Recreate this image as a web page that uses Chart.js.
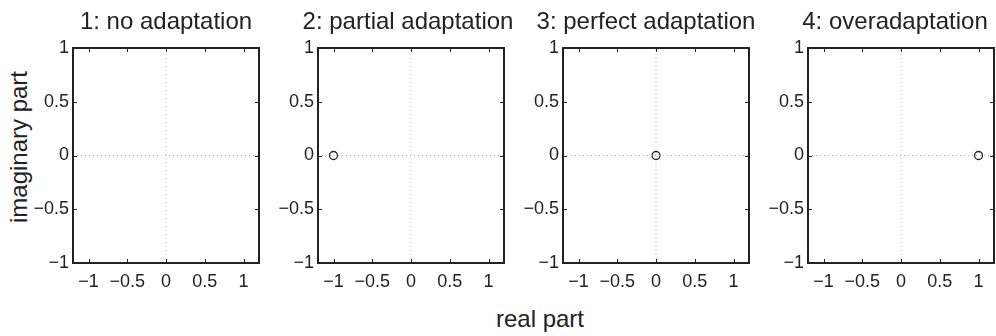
<!DOCTYPE html>
<html>
<head>
<meta charset="utf-8">
<script src="https://cdn.jsdelivr.net/npm/chart.js@4.4.1/dist/chart.umd.min.js"></script>
<style>
  html, body { margin: 0; padding: 0; background: #fff; }
  #wrap { position: relative; width: 996px; height: 336px; overflow: hidden; font-family: "Liberation Sans", Arial, sans-serif; color: #222; }
  .panel { position: absolute; top: 0; height: 336px; }
  .lbl { position: absolute; font-size: 24px; line-height: 28px; white-space: nowrap; color: #222; }
</style>
</head>
<body>
<div id="wrap">
  <div class="lbl" id="ylab" style="left:19px; top:147px; transform: translate(-50%,-50%) rotate(-90deg);">imaginary part</div>
  <div class="lbl" id="xlab" style="left:540px; top:319px; transform: translate(-50%,-50%);">real part</div>
</div>
<script>
// ---- data ----
const panelTitles = ['1: no adaptation', '2: partial adaptation', '3: perfect adaptation', '4: overadaptation'];
const zeroReal = [[], [-1], [0], [1]];
const zeroImag = [[], [0], [0], [0]];
const xTickValues = [-1, -0.5, 0, 0.5, 1];
const xTickLabels = ['\u22121', '\u22120.5', '0', '0.5', '1'];
const yTickValues = [-1, -0.5, 0, 0.5, 1];
const yTickLabels = ['\u22121', '\u22120.5', '0', '0.5', '1'];
const xMin = -1.2, xMax = 1.2;
const yMin = -1, yMax = 1;

// ---- layout / style ----
const FONT = '"Liberation Sans", Arial, sans-serif';
const INK = '#222';
const plotLefts = [73, 318, 563, 808];
const plotWidth = 186;
const leftAxisW = 55;
const rightAxisW = [55, 49, 35, 43]; // nudges each title slightly as in the reference

const boxPlugin = {
  id: 'boxTicks',
  afterDatasetsDraw(chart) {
    const { ctx, chartArea: a, scales } = chart;
    ctx.save();
    ctx.strokeStyle = INK;
    ctx.lineWidth = 1;
    const tl = 4;
    xTickValues.forEach(v => {
      const px = Math.round(scales.x.getPixelForValue(v)) + 0.5;
      ctx.beginPath();
      ctx.moveTo(px, a.bottom); ctx.lineTo(px, a.bottom - tl);
      ctx.moveTo(px, a.top); ctx.lineTo(px, a.top + tl);
      ctx.stroke();
    });
    yTickValues.forEach(v => {
      const py = Math.round(scales.y.getPixelForValue(v)) + 0.5;
      ctx.beginPath();
      ctx.moveTo(a.left, py); ctx.lineTo(a.left + tl, py);
      ctx.moveTo(a.right, py); ctx.lineTo(a.right - tl, py);
      ctx.stroke();
    });
    ctx.lineWidth = 2;
    ctx.strokeRect(a.left, a.top, a.right - a.left, a.bottom - a.top);
    ctx.restore();
  }
};

const wrap = document.getElementById('wrap');

panelTitles.forEach((title, i) => {
  const div = document.createElement('div');
  div.className = 'panel';
  div.style.left = (plotLefts[i] - leftAxisW) + 'px';
  div.style.width = (leftAxisW + plotWidth + rightAxisW[i]) + 'px';
  const cv = document.createElement('canvas');
  div.appendChild(cv);
  wrap.appendChild(div);

  const pts = zeroReal[i].map((r, k) => ({ x: r, y: zeroImag[i][k] }));

  new Chart(cv, {
    type: 'scatter',
    data: {
      datasets: [
        {
          type: 'line',
          data: [{ x: xMin, y: 0 }, { x: xMax, y: 0 }],
          borderColor: '#b4b4da', borderWidth: 1, borderDash: [1, 3],
          pointRadius: 0, fill: false
        },
        {
          type: 'line',
          data: [{ x: 0, y: yMin }, { x: 0, y: yMax }],
          borderColor: '#b4b4da', borderWidth: 1, borderDash: [1, 3],
          pointRadius: 0, fill: false
        },
        {
          data: pts,
          pointStyle: 'circle', pointRadius: 4, pointBorderWidth: 1.3,
          borderColor: INK, backgroundColor: 'rgba(0,0,0,0)'
        }
      ]
    },
    options: {
      responsive: true,
      maintainAspectRatio: false,
      animation: false,
      events: [],
      layout: { padding: 0 },
      plugins: {
        legend: { display: false },
        tooltip: { enabled: false },
        title: {
          display: true, text: title, color: INK,
          font: { family: FONT, size: 24, weight: 'normal', lineHeight: 1.2 },
          padding: { top: 8, bottom: 11.2 }
        }
      },
      scales: {
        x: {
          type: 'linear', min: xMin, max: xMax,
          grid: { display: false, drawTicks: false },
          border: { display: false },
          afterBuildTicks: s => { s.ticks = xTickValues.map(v => ({ value: v })); },
          afterFit: s => { s.height = 73; },
          ticks: {
            color: INK, font: { family: FONT, size: 18 }, padding: 8,
            maxRotation: 0, autoSkip: false,
            callback: v => { const k = xTickValues.indexOf(v); return k >= 0 ? xTickLabels[k] : ''; }
          }
        },
        y: {
          type: 'linear', position: 'left', min: yMin, max: yMax,
          grid: { display: false, drawTicks: false },
          border: { display: false },
          afterBuildTicks: s => { s.ticks = yTickValues.map(v => ({ value: v })); },
          afterFit: s => { s.width = leftAxisW; },
          ticks: {
            color: INK, font: { family: FONT, size: 18 }, padding: 4,
            autoSkip: false,
            callback: v => { const k = yTickValues.indexOf(v); return k >= 0 ? yTickLabels[k] : ''; }
          }
        },
        yRight: {
          type: 'linear', position: 'right', min: yMin, max: yMax,
          grid: { display: false, drawTicks: false },
          border: { display: false },
          ticks: { display: false },
          afterFit: s => { s.width = rightAxisW[i]; }
        }
      }
    },
    plugins: [boxPlugin]
  });
});
</script>
</body>
</html>
